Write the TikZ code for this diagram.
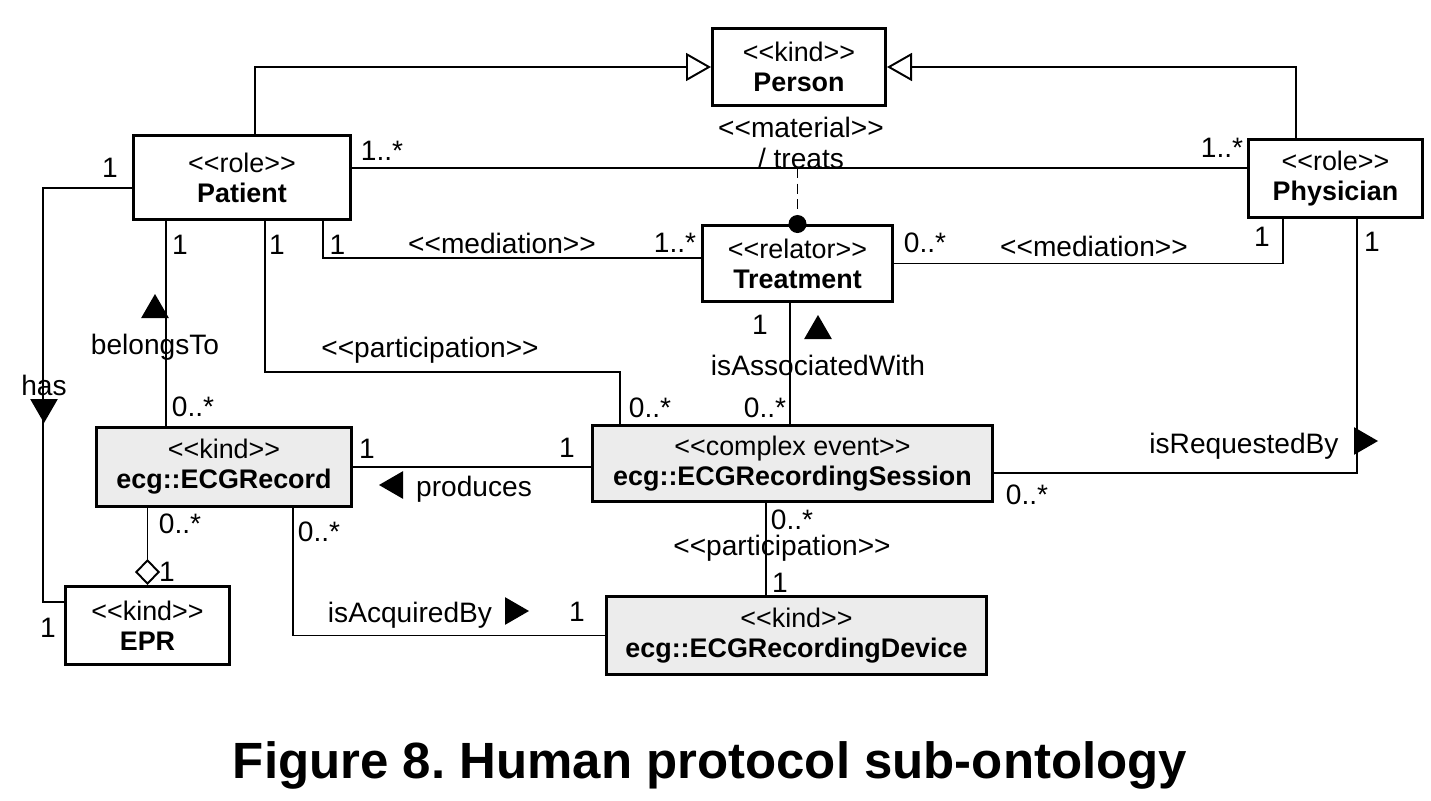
\documentclass[tikz,border=0pt]{standalone}
\usepackage{fontspec}
\setmainfont{Liberation Sans}
\usepackage{xcolor}
\usepackage{tikz}
\usetikzlibrary{shapes,arrows,positioning,fit,arrows.meta}
\definecolor{kindgray}{RGB}{236,236,236}
\newcommand{\stereo}[1]{<{}<#1>{}>}
\frenchspacing

\begin{document}
\begin{tikzpicture}[
            class/.style={rectangle, draw=black, line width=1.7pt, fill=white, align=center, inner sep=0pt, font=\fontsize{15.3}{17}\selectfont},
            shaded/.style={class, fill=kindgray},
            assoc/.style={draw=black, line width=1.1pt},
            generalization/.style={assoc, -{Triangle[open, length=0.5cm, width=0.56cm, fill=white]}},
            aggregation/.style={assoc, -{Diamond[open, length=0.52cm, width=0.5cm, fill=white]}},
            lbl/.style={font=\fontsize{16}{18}\selectfont, inner sep=1pt},
            dirmark/.style={regular polygon, regular polygon sides=3, fill=black, inner sep=0pt, minimum size=0.64cm}
        ]
        \useasboundingbox (0,0) rectangle (28.62,-16.02);

        \node[class, minimum width=3.46cm, minimum height=1.54cm] (person) at (15.98,-1.34) {\stereo{kind}\\\textbf{Person}};
        \node[class, minimum width=4.34cm, minimum height=1.68cm] (patient) at (4.84,-3.55) {\stereo{role}\\\textbf{Patient}};
        \node[class, minimum width=3.48cm, minimum height=1.56cm] (physician) at (26.71,-3.57) {\stereo{role}\\\textbf{Physician}};
        \node[class, minimum width=3.8cm, minimum height=1.52cm] (treatment) at (15.95,-5.27) {\stereo{relator}\\\textbf{Treatment}};
        \node[shaded, minimum width=5.1cm, minimum height=1.58cm] (record) at (4.48,-9.34) {\stereo{kind}\\\textbf{ecg::ECGRecord}};
        \node[shaded, minimum width=8.0cm, minimum height=1.52cm] (session) at (15.85,-9.27) {\stereo{complex event}\\\textbf{ecg::ECGRecordingSession}};
        \node[class, minimum width=3.28cm, minimum height=1.56cm] (epr) at (2.95,-12.51) {\stereo{kind}\\\textbf{EPR}};
        \node[shaded, minimum width=7.6cm, minimum height=1.56cm] (device) at (15.93,-12.71) {\stereo{kind}\\\textbf{ecg::ECGRecordingDevice}};

        \draw[generalization] ([xshift=0.26cm]patient.north) |- (person.west);
        \draw[generalization] ([xshift=-0.79cm]physician.north) |- (person.east);

        \draw[assoc] ([yshift=0.19cm]patient.east) -- ([yshift=0.19cm]patient.east -| physician.west);
        \coordinate (treats) at ([yshift=0.19cm]patient.east -| treatment.north);
        \draw[assoc, dash pattern=on 0.2cm off 0.11cm] (treats) -- (treatment.north);
        \fill (treatment.north) circle (0.18);

        \draw[assoc] ([xshift=1.62cm]patient.south) |- ([yshift=0.11cm]treatment.west);
        \draw[assoc] (treatment.east) -| ([xshift=-1.05cm]physician.south);
        \draw[assoc] ([xshift=0.43cm]physician.south) |- ([yshift=-0.19cm]session.east);
        \draw[assoc] ([xshift=-1.52cm]patient.south) -- ([xshift=-1.52cm]patient.south |- record.north);
        \draw[assoc] ([yshift=-0.21cm]patient.west) -- ++(-1.78,0) |- ([yshift=0.47cm]epr.west);
        \draw[assoc] ([xshift=0.46cm]patient.south) -- ++(0,-3.02) -| ([xshift=-3.45cm]session.north);
        \draw[assoc] ([xshift=-0.15cm]treatment.south) -- ([xshift=-0.15cm]treatment.south |- session.north);
        \draw[assoc] (record.east) -- (record.east -| session.west);
        \draw[aggregation] (record.south -| epr.north) -- (epr.north);
        \draw[assoc] ([xshift=1.38cm]record.south) |- (device.west);
        \draw[assoc] ([xshift=-0.53cm]session.south) -- ([xshift=-0.53cm]session.south |- device.north);

        \node[lbl, align=center] (materialtxt) at (16.02,-2.86) {\stereo{material}\\/ treats};

        \node[lbl] (m1) at (2.2,-3.36) {1};
        \node[lbl] (m2) at (7.64,-3.02) {1..*};
        \node[lbl] (m3) at (24.44,-2.96) {1..*};
        \node[lbl] (m4) at (6.75,-4.9) {1};
        \node[lbl] (med1) at (10.04,-4.86) {\stereo{mediation}};
        \node[lbl] (m5) at (13.5,-4.86) {1..*};
        \node[lbl] (m6) at (18.5,-4.86) {0..*};
        \node[lbl] (med2) at (21.88,-4.92) {\stereo{mediation}};
        \node[lbl] (m7) at (25.24,-4.74) {1};
        \node[lbl] (m8) at (27.44,-4.84) {1};
        \node[lbl] (m9) at (3.6,-4.9) {1};
        \node[lbl] (m10) at (5.54,-4.9) {1};

        \node[dirmark] (belongsmark) at (3.1,-6.2) {};
        \node[lbl] (belongs) at (3.1,-6.94) {belongsTo};
        \node[lbl] (has) at (0.88,-7.7) {has};
        \node[dirmark, shape border rotate=180] (hasmark) at (0.88,-8.14) {};
        \node[lbl] (m11) at (3.86,-8.14) {0..*};
        \node[lbl] (part1) at (8.6,-7.0) {\stereo{participation}};
        \node[lbl] (m12) at (13.0,-8.16) {0..*};
        \node[lbl] (m13) at (15.2,-6.5) {1};
        \node[dirmark] (assocmark) at (16.36,-6.62) {};
        \node[lbl] (associated) at (16.36,-7.3) {isAssociatedWith};
        \node[lbl] (m14) at (15.3,-8.16) {0..*};

        \node[lbl] (m15) at (7.34,-8.98) {1};
        \node[dirmark, shape border rotate=90] (producesmark) at (7.9,-9.7) {};
        \node[lbl] (produces) at (9.48,-9.78) {produces};
        \node[lbl] (m16) at (11.34,-8.96) {1};

        \node[lbl] (m17) at (20.54,-9.9) {0..*};
        \node[lbl] (requested) at (24.88,-8.92) {isRequestedBy};
        \node[dirmark, shape border rotate=-90] (requestedmark) at (27.24,-8.82) {};

        \node[lbl] (m18) at (3.6,-10.48) {0..*};
        \node[lbl] (m19) at (3.34,-11.44) {1};
        \node[lbl] (m20) at (0.96,-12.56) {1};
        \node[lbl] (m21) at (6.38,-10.64) {0..*};
        \node[lbl] (acquired) at (8.2,-12.3) {isAcquiredBy};
        \node[dirmark, shape border rotate=-90] (acquiredmark) at (10.26,-12.22) {};
        \node[lbl] (m22) at (11.54,-12.24) {1};
        \node[lbl] (m23) at (15.84,-10.4) {0..*};
        \node[lbl] (part2) at (15.64,-10.96) {\stereo{participation}};
        \node[lbl] (m24) at (15.6,-11.66) {1};

        \node[font=\fontsize{29}{34}\selectfont\bfseries] (caption) at (14.2,-15.3) {Figure 8. Human protocol sub-ontology};

    \end{tikzpicture}
\end{document}
